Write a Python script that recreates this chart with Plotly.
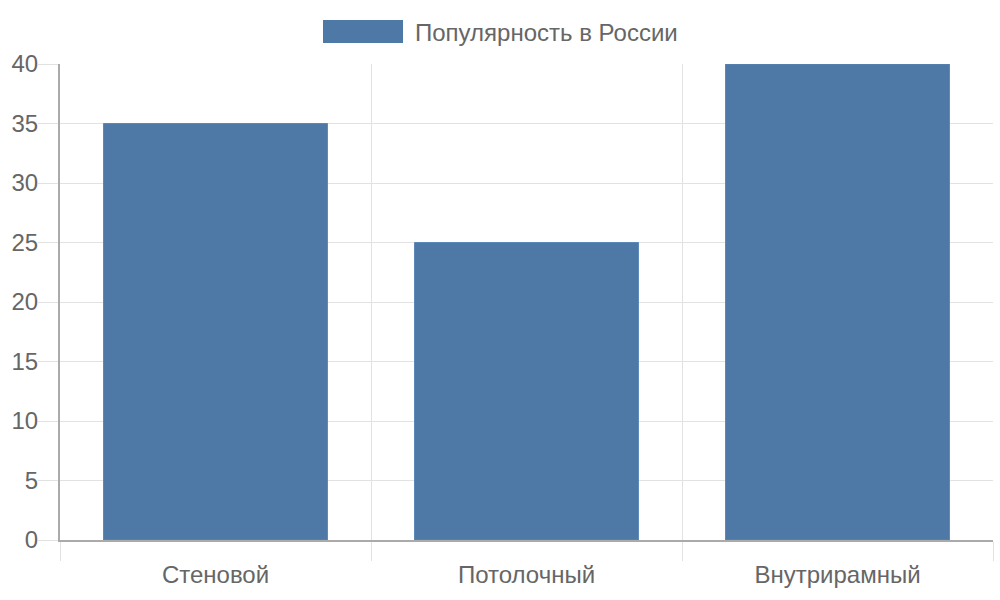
import plotly.graph_objects as go

categories = ["Стеновой", "Потолочный", "Внутрирамный"]
values = [35, 25, 40]
series_name = "Популярность в России"
y_ticks = [0, 5, 10, 15, 20, 25, 30, 35, 40]

bar_color = "#4e79a7"
font = dict(family="Liberation Sans, Arial, sans-serif", size=24, color="#666666")

fig = go.Figure()
fig.add_trace(go.Bar(
    x=categories, y=values, name=series_name, width=0.72,
    marker=dict(color=bar_color, line=dict(color="#5a88b8", width=1)),
    showlegend=False,
))

fig.update_layout(
    width=1000, height=600,
    margin=dict(l=60, r=7, t=64, b=60),
    paper_bgcolor="white", plot_bgcolor="white",
    font=font,
    xaxis=dict(
        range=[-0.5, 2.5], tickson="boundaries", showgrid=True, gridcolor="#e2e2e2", gridwidth=1,
        ticks="outside", ticklen=19, tickcolor="#e2e2e2", tickwidth=1,
        showline=True, linecolor="#aaaaaa", linewidth=2, tickfont=font,
        zeroline=False, ticklabelstandoff=12,
    ),
    yaxis=dict(
        range=[0, 40], tickvals=y_ticks, showgrid=True, gridcolor="#e2e2e2", gridwidth=1,
        ticks="outside", ticklen=20, tickcolor="#e2e2e2", tickwidth=1,
        showline=True, linecolor="#aaaaaa", linewidth=2, tickfont=font,
        zeroline=False, ticklabelstandoff=-5,
    ),
)

# Legend (Chart.js style wide swatch)
fig.add_shape(type="rect", xref="paper", yref="paper",
              x0=(323 - 60) / 933, x1=(403 - 60) / 933,
              y0=(600 - 60 - 43) / 476, y1=(600 - 60 - 20) / 476,
              fillcolor=bar_color, line=dict(width=0))
fig.add_annotation(text=series_name, xref="paper", yref="paper",
                   x=(413 - 60) / 933, y=(600 - 60 - 32) / 476,
                   xanchor="left", yanchor="middle", showarrow=False, font=font)

fig.write_html("out.html")
